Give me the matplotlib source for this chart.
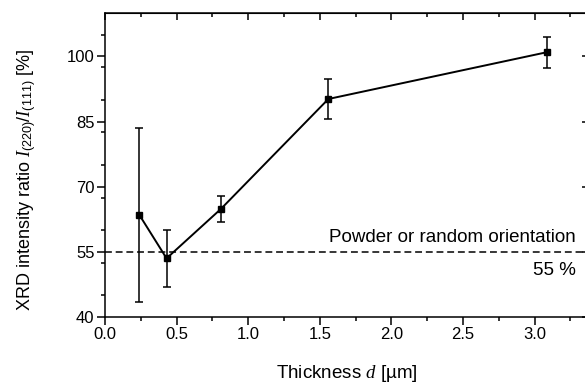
import numpy as np
import matplotlib.pyplot as plt
from matplotlib.ticker import MultipleLocator

plt.rcParams['font.family'] = 'Liberation Sans'
plt.rcParams['mathtext.fontset'] = 'custom'
plt.rcParams['mathtext.rm'] = 'Liberation Sans'
plt.rcParams['mathtext.it'] = 'Liberation Serif:italic'

# datos
espesor = [0.24, 0.43, 0.81, 1.56, 3.09]
razon = [63.5, 53.5, 64.9, 90.2, 101.0]
err_sup = [20.0, 6.6, 3.0, 4.5, 3.4]
err_inf = [20.0, 6.6, 3.0, 4.5, 3.6]
polvo = 55
yticks = [40, 55, 70, 85, 100]

fig = plt.figure(figsize=(5.85, 3.83), dpi=100)
ax = fig.add_axes([105/585, 66/383, 484/585, 304/383])

ax.errorbar(espesor, razon, yerr=[err_inf, err_sup], color='black', lw=1.4,
            marker='s', ms=4.8, capsize=3, elinewidth=1.1, capthick=1.1)
ax.axhline(polvo, color='black', ls=(0, (4.5, 2.5)), lw=1.1)

ax.text(3.29, polvo + 2.3, "Powder or random orientation", ha='right', va='baseline', fontsize=13.5)
ax.text(3.29, polvo - 2.4, "%d %%" % polvo, ha='right', va='top', fontsize=13.5)

ax.set_xlim(0, 3.38)
ax.set_ylim(40, 110)
ax.xaxis.set_major_locator(MultipleLocator(0.5))
ax.xaxis.set_minor_locator(MultipleLocator(0.25))
ax.set_yticks(yticks)
ax.yaxis.set_minor_locator(MultipleLocator(7.5))
ax.xaxis.set_major_formatter(plt.FuncFormatter(lambda v, p: "%.1f" % v))

ax.tick_params(which='both', direction='out', width=1.1, labelsize=12, pad=2,
               top=False, right=False)
ax.tick_params(which='major', length=5.5)
ax.tick_params(which='minor', length=3)

# ticks espejo hacia adentro (arriba y derecha)
sec_x = ax.secondary_xaxis('top')
sec_x.xaxis.set_major_locator(MultipleLocator(0.5))
sec_x.xaxis.set_minor_locator(MultipleLocator(0.25))
sec_x.tick_params(which='both', direction='in', width=1.1, labeltop=False)
sec_x.tick_params(which='major', length=5)
sec_x.tick_params(which='minor', length=3)
sec_y = ax.secondary_yaxis('right')
sec_y.set_yticks(yticks)
sec_y.yaxis.set_minor_locator(MultipleLocator(7.5))
sec_y.tick_params(which='both', direction='in', width=1.1, labelright=False)
sec_y.tick_params(which='major', length=5)
sec_y.tick_params(which='minor', length=3)

for s in ax.spines.values():
    s.set_linewidth(1.1)

ax.set_xlabel("Thickness $d$ [µm]", fontsize=13.5, labelpad=15)
ax.set_ylabel("XRD intensity ratio $I_{\\rm (220)}/I_{\\rm (111)}$ [%]", fontsize=13, labelpad=21)
ax.yaxis.label.set_y(0.45)

plt.savefig("out.png", dpi=100)
